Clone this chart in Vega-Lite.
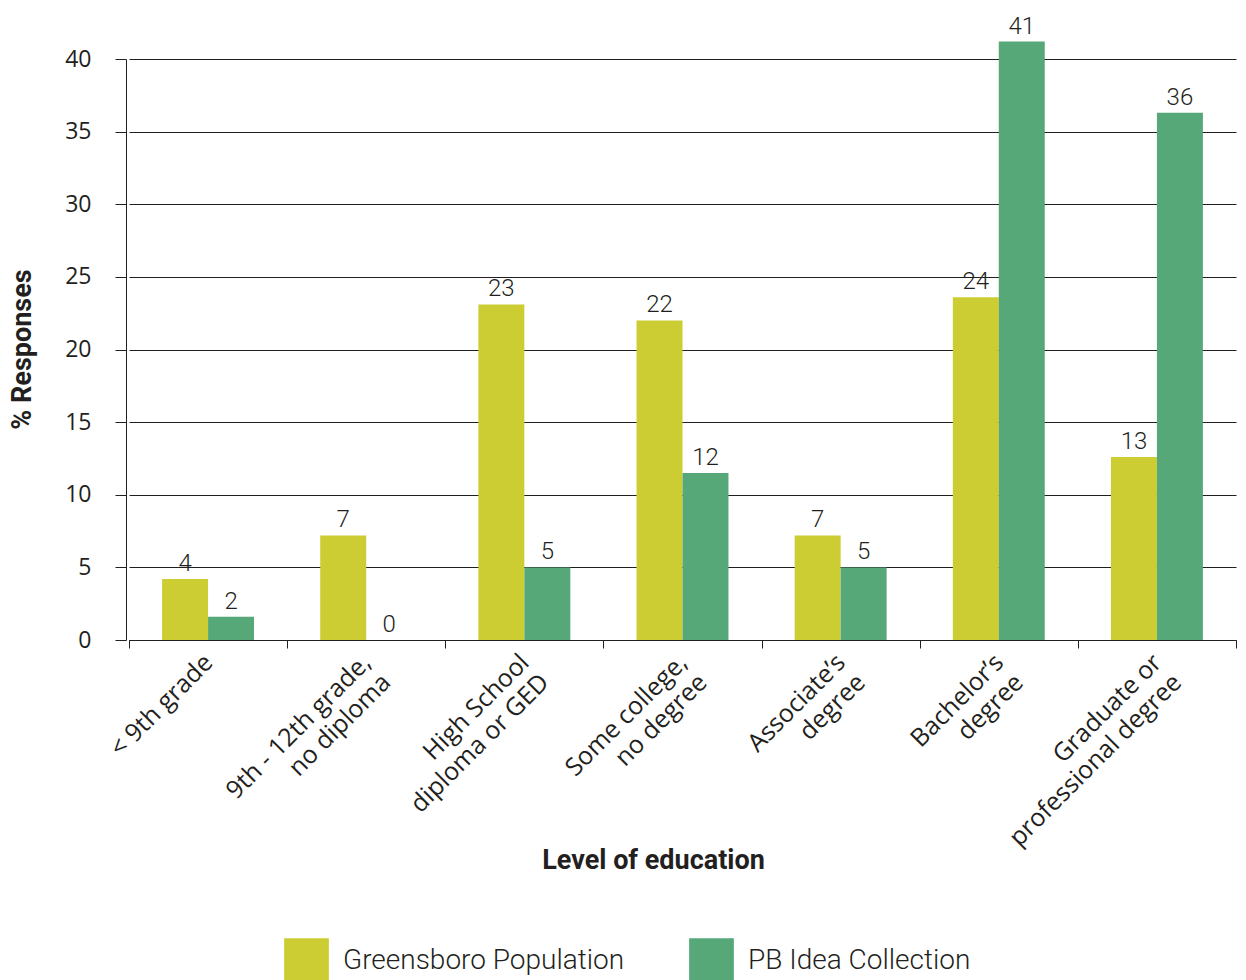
{
  "$schema": "https://vega.github.io/schema/vega-lite/v6.json",
  "width": 1115,
  "height": 581,
  "autosize": {"type": "none"},
  "padding": {"left": 126, "top": 59, "right": 5, "bottom": 340},
  "background": "white",
  "config": {"view": {"stroke": null}, "font": "Open Sans"},
  "data": {
    "values": [
      {"category": "< 9th grade", "series": "Greensboro Population", "value": 4.2},
      {"category": "< 9th grade", "series": "PB Idea Collection", "value": 1.6},
      {"category": "9th - 12th grade,|no diploma", "series": "Greensboro Population", "value": 7.2},
      {"category": "9th - 12th grade,|no diploma", "series": "PB Idea Collection", "value": 0},
      {"category": "High School|diploma or GED", "series": "Greensboro Population", "value": 23.1},
      {"category": "High School|diploma or GED", "series": "PB Idea Collection", "value": 5.0},
      {"category": "Some college,|no degree", "series": "Greensboro Population", "value": 22.0},
      {"category": "Some college,|no degree", "series": "PB Idea Collection", "value": 11.5},
      {"category": "Associate’s|degree", "series": "Greensboro Population", "value": 7.2},
      {"category": "Associate’s|degree", "series": "PB Idea Collection", "value": 5.0},
      {"category": "Bachelor’s|degree", "series": "Greensboro Population", "value": 23.6},
      {"category": "Bachelor’s|degree", "series": "PB Idea Collection", "value": 41.2},
      {"category": "Graduate or|professional degree", "series": "Greensboro Population", "value": 12.6},
      {"category": "Graduate or|professional degree", "series": "PB Idea Collection", "value": 36.3}
    ]
  },
  "encoding": {
    "x": {
      "field": "category",
      "type": "nominal",
      "sort": null,
      "scale": {"paddingInner": 0, "paddingOuter": 0, "range": [3, 1110]},
      "axis": {
        "title": "Level of education",
        "labelExpr": "split(datum.label, '|')",
        "labelAngle": -45,
        "labelAlign": "right",
        "labelBaseline": "middle",
        "labelFontSize": 25,
        "labelColor": "#231f20",
        "labelPadding": 10,
        "labelLineHeight": 28,
        "labelLimit": 0,
        "labelOverlap": false,
        "tickBand": "extent",
        "tickSize": 8,
        "tickColor": "#231f20",
        "domainColor": "#231f20",
        "grid": false,
        "titleFont": "Roboto",
        "titleFontSize": 27,
        "titleFontWeight": "bold",
        "titleColor": "#231f20",
        "titleX": 527,
        "titleY": 220,
        "titleAlign": "center",
        "titleBaseline": "middle"
      }
    },
    "xOffset": {"field": "series", "type": "nominal", "sort": ["Greensboro Population", "PB Idea Collection"], "scale": {"paddingInner": 0, "paddingOuter": 0.72}},
    "y": {
      "field": "value",
      "type": "quantitative",
      "scale": {"domain": [0, 40], "nice": false},
      "axis": {
        "title": "% Responses",
        "values": [0, 5, 10, 15, 20, 25, 30, 35, 40],
        "grid": true,
        "gridColor": "#231f20",
        "gridWidth": 1,
        "gridOpacity": 1,
        "tickSize": 11,
        "tickColor": "#231f20",
        "domainColor": "#231f20",
        "labelPadding": 24,
        "labelFontSize": 23,
        "labelColor": "#231f20",
        "titleFont": "Roboto",
        "titleFontSize": 27,
        "titleFontWeight": "bold",
        "titleColor": "#231f20",
        "titleX": -104,
        "titleY": 290,
        "titleAlign": "center",
        "titleBaseline": "middle"
      }
    }
  },
  "layer": [
    {
      "mark": {"type": "bar"},
      "encoding": {
        "color": {
          "field": "series",
          "type": "nominal",
          "scale": {"domain": ["Greensboro Population", "PB Idea Collection"], "range": ["#cccc33", "#56a878"]},
          "legend": {
            "title": null,
            "orient": "none",
            "legendX": 158,
            "legendY": 879,
            "direction": "horizontal",
            "symbolType": "square",
            "symbolSize": 2000,
            "symbolStrokeWidth": 0,
            "symbolOpacity": 1,
            "labelFont": "Roboto",
            "labelFontWeight": 300,
            "labelFontSize": 28,
            "labelColor": "#231f20",
            "labelOffset": 14,
            "labelLimit": 0,
            "columnPadding": 64,
            "padding": 0
          }
        }
      }
    },
    {
      "mark": {"type": "text", "baseline": "alphabetic", "dy": -8, "fontSize": 24, "font": "Roboto", "fontWeight": 300, "color": "#231f20"},
      "encoding": {
        "text": {"field": "value", "type": "quantitative", "format": ".0f"}
      }
    }
  ]
}
